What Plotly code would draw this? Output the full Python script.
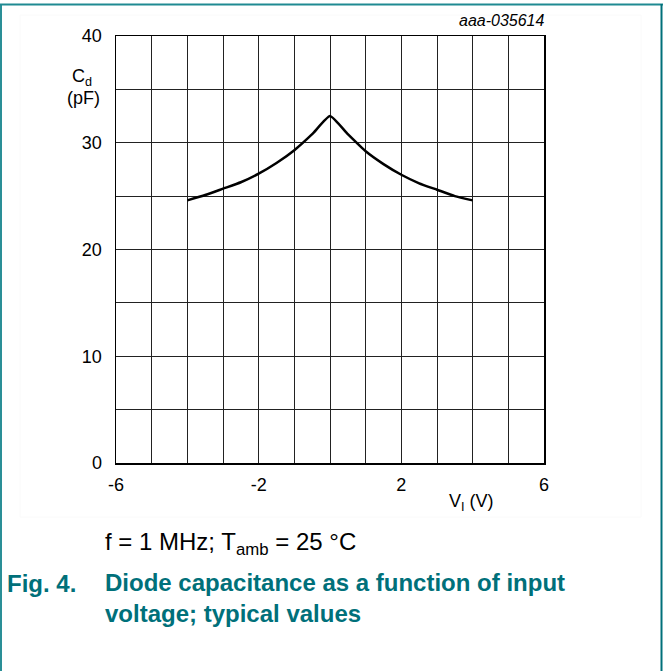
import plotly.graph_objects as go

# ---- data ----
v_in = [-4, -3.5, -3, -2.5, -2, -1.5, -1, -0.5, 0, 0.5, 1, 1.5, 2, 2.5, 3, 3.5, 4]
c_d = [24.6, 25.1, 25.7, 26.3, 27.1, 28.1, 29.3, 30.8, 32.5, 30.8, 29.2, 28.0, 27.0, 26.2, 25.6, 25.0, 24.6]
x_ticks = [-6, -2, 2, 6]
y_ticks = [0, 10, 20, 30, 40]

W, H = 664, 671
L, R, T, B = 116, 544, 36, 463
TEAL = "#00707a"
FONT = "Liberation Sans, Arial, sans-serif"


def px(x):
    return (x - L) / (R - L)


def py(y):
    return (B - y) / (B - T)


fig = go.Figure()
fig.add_trace(go.Scatter(x=v_in, y=c_d, mode="lines",
                         line=dict(color="black", width=2.5, shape="spline", smoothing=0.45),
                         hoverinfo="skip", showlegend=False))

fig.update_xaxes(range=[-6, 6], tickvals=x_ticks, ticktext=[str(v) for v in x_ticks],
                 showgrid=True, gridcolor="#222", gridwidth=1,
                 minor=dict(dtick=1, tick0=0, showgrid=True, gridcolor="#222", gridwidth=1),
                 showline=True, linecolor="black", linewidth=1.5, mirror=True,
                 zeroline=False, ticks="", ticklen=0, ticklabelstandoff=5,
                 tickfont=dict(family=FONT, size=18, color="black"))
fig.update_yaxes(range=[0, 40], tickvals=y_ticks, ticktext=[str(v) for v in y_ticks],
                 showgrid=True, gridcolor="#222", gridwidth=1,
                 minor=dict(dtick=5, tick0=0, showgrid=True, gridcolor="#222", gridwidth=1),
                 showline=True, linecolor="black", linewidth=1.5, mirror=True,
                 zeroline=False, ticks="", ticklen=0, ticklabelstandoff=9,
                 tickfont=dict(family=FONT, size=18, color="black"))

ann = []
ann.append(dict(x=px(547), y=py(21), xref="paper", yref="paper", xanchor="right", yanchor="middle",
                text="<i>aaa-035614</i>", showarrow=False,
                font=dict(family=FONT, size=16, color="black")))
ann.append(dict(x=px(82), y=py(77), xref="paper", yref="paper", xanchor="center", yanchor="middle",
                text="C<sub>d</sub>", showarrow=False, font=dict(family=FONT, size=18, color="black")))
ann.append(dict(x=px(83), y=py(98), xref="paper", yref="paper", xanchor="center", yanchor="middle",
                text="(pF)", showarrow=False, font=dict(family=FONT, size=18, color="black")))
ann.append(dict(x=px(471), y=py(502), xref="paper", yref="paper", xanchor="center", yanchor="middle",
                text="V<sub>I</sub> (V)", showarrow=False, font=dict(family=FONT, size=18, color="black")))
ann.append(dict(x=px(103), y=py(543), xref="paper", yref="paper", xanchor="left", yanchor="middle",
                text="f = 1 MHz; T<sub>amb</sub> = 25 °C", showarrow=False,
                font=dict(family=FONT, size=24, color="black")))
ann.append(dict(x=px(5), y=py(583), xref="paper", yref="paper", xanchor="left", yanchor="middle",
                text="<b>Fig. 4.</b>", showarrow=False, font=dict(family=FONT, size=24, color=TEAL)))
ann.append(dict(x=px(103), y=py(598), xref="paper", yref="paper", xanchor="left", yanchor="middle",
                text="<b>Diode capacitance as a function of input<br>voltage; typical values</b>",
                align="left", showarrow=False, font=dict(family=FONT, size=24, color=TEAL)))

shapes = [
    dict(type="rect", xref="paper", yref="paper", x0=px(20), x1=px(641), y0=py(15), y1=py(517),
         line=dict(color="#fafafa", width=1), layer="below"),
    dict(type="line", xref="paper", yref="paper", x0=px(1), x1=px(1), y0=py(4), y1=py(675),
         line=dict(color="#2a8f97", width=2)),
    dict(type="line", xref="paper", yref="paper", x0=px(0), x1=px(663), y0=py(4.5), y1=py(4.5),
         line=dict(color="#1f8a92", width=2)),
    dict(type="line", xref="paper", yref="paper", x0=px(661.5), x1=px(661.5), y0=py(4), y1=py(675),
         line=dict(color="#00707a", width=2)),
]

fig.update_layout(width=W, height=H, margin=dict(l=L, r=W - R, t=T, b=H - B),
                  paper_bgcolor="white", plot_bgcolor="white",
                  annotations=ann, shapes=shapes, showlegend=False)

fig.write_html("out.html", config={"displayModeBar": False, "staticPlot": True},
               post_script="document.body.style.margin='0';document.body.style.overflow='hidden';")
